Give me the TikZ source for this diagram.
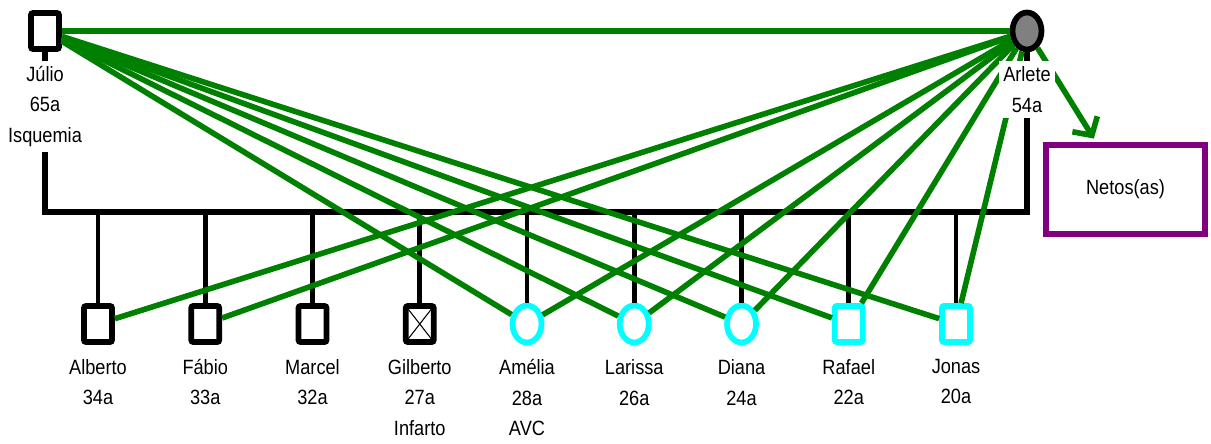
\documentclass[tikz,border=0pt]{standalone}
\usepackage{fontspec}
\setmainfont{Liberation Sans}[FakeStretch=0.88]
\usetikzlibrary{positioning,shapes.geometric,arrows.meta}
\definecolor{kin}{RGB}{0,128,0}
\definecolor{grandkids}{RGB}{128,0,128}
\definecolor{aqua}{RGB}{0,255,255}
\tikzset{
  male/.style={draw, fill=white, line width=4.3pt, rounded corners=1.5pt, minimum width=21pt, minimum height=27pt, inner sep=0pt},
  female/.style={ellipse, draw, fill=white, line width=4.3pt, minimum width=21.75pt, minimum height=27.75pt, inner sep=0pt},
  dead/.style={path picture={\draw[line width=0.8pt] (path picture bounding box.north west) -- (path picture bounding box.south east) (path picture bounding box.north east) -- (path picture bounding box.south west);}},
  lbl/.style={align=center, fill=white, inner xsep=3pt, inner ysep=4pt},
  tie/.style={draw=kin, line width=4.2pt},
  stem/.style={line width=3.5pt}
}
\begin{document}
\begin{tikzpicture}[x=0.75pt, y=-0.75pt, node distance=80.44pt, font=\fontsize{15.5}{22.9}\selectfont]
		\useasboundingbox (0,0) rectangle (1211,443);
		\node[male] (julio) at (45,31) {};
		\node[female, fill=gray] (arlete) at (1027,31) {};
		\node[draw=grandkids, line width=4.3pt, minimum width=119pt, minimum height=67pt] (netos) at (1125.5,189.5) {Netos(as)};
		
		\node[male] (alberto) at (98,324) {};
		\node[male] (fabio) [right of=alberto] {};
		\node[male] (marcel) [right of=fabio] {};
		\node[male, dead] (gilberto) [right of=marcel] {};
		\node[female, draw=aqua] (amelia) [right of=gilberto] {};
		\node[female, draw=aqua] (larissa) [right of=amelia] {};
		\node[female, draw=aqua] (diana) [right of=larissa] {};
		\node[male, draw=aqua] (rafael) [right of=diana] {};
		\node[male, draw=aqua] (jonas) [right of=rafael] {};
		
		\coordinate (barl) at (45,212);
		\coordinate (barr) at (1027,212);
		\draw[line width=4.2pt] (julio) -- (barl) -- (barr) -- (arlete);
		\draw[stem] (alberto) -- (alberto |- barl);
		\draw[stem] (fabio) -- (fabio |- barl);
		\draw[stem] (marcel) -- (marcel |- barl);
		\draw[stem] (gilberto) -- (gilberto |- barl);
		\draw[stem] (amelia) -- (amelia |- barl);
		\draw[stem] (larissa) -- (larissa |- barl);
		\draw[stem] (diana) -- (diana |- barl);
		\draw[stem] (rafael) -- (rafael |- barl);
		\draw[stem] (jonas) -- (jonas |- barl);
		
		\draw[tie] (julio) -- (arlete);
		\draw[tie] (julio) -- (amelia);
		\draw[tie] (julio) -- (larissa);
		\draw[tie] (julio) -- (diana);
		\draw[tie] (julio) -- (rafael);
		\draw[tie] (julio) -- (jonas);
		\draw[tie] (arlete) -- (alberto);
		\draw[tie] (arlete) -- (fabio);
		\draw[tie] (arlete) -- (amelia);
		\draw[tie] (arlete) -- (larissa);
		\draw[tie] (arlete) -- (diana);
		\draw[tie] (arlete) -- (rafael);
		\draw[tie] (arlete) -- (jonas);
		\draw[tie, -{Straight Barb[length=10pt, width=22pt]}, shorten >=3pt] (arlete) -- (netos);
		
		\node[lbl] (julio-l) [below=6.5pt of julio] {Júlio\\65a\\Isquemia};
		\node[lbl] (arlete-l) [below=6.5pt of arlete] {Arlete\\54a};
		\node[lbl] (alberto-l) [below=6.5pt of alberto] {Alberto\\34a};
		\node[lbl] (fabio-l) [below=6.5pt of fabio] {Fábio\\33a};
		\node[lbl] (marcel-l) [below=6.5pt of marcel] {Marcel\\32a};
		\node[lbl] (gilberto-l) [below=6.5pt of gilberto] {Gilberto\\27a\\Infarto};
		\node[lbl] (amelia-l) [below=6.5pt of amelia] {Amélia\\28a\\AVC};
		\node[lbl] (larissa-l) [below=6.5pt of larissa] {Larissa\\26a};
		\node[lbl] (diana-l) [below=6.5pt of diana] {Diana\\24a};
		\node[lbl] (rafael-l) [below=6.5pt of rafael] {Rafael\\22a};
		\node[lbl] (jonas-l) [below=6.5pt of jonas] {Jonas\\20a};
		
\end{tikzpicture}
\end{document}
